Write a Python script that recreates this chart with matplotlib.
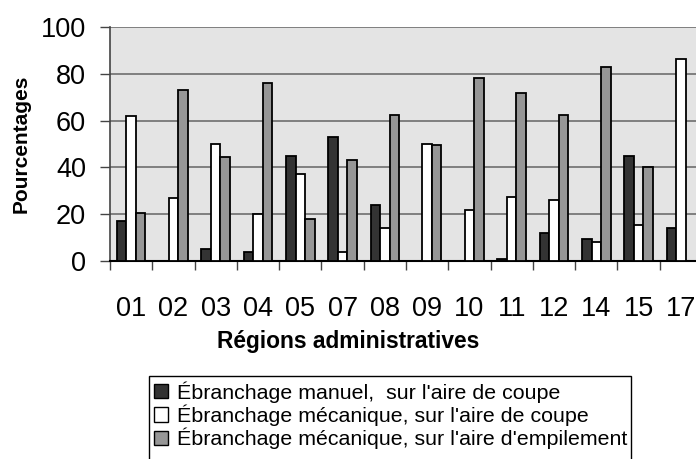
import matplotlib
matplotlib.use("Agg")
import matplotlib.pyplot as plt
from matplotlib.patches import Patch, Rectangle
import numpy as np

categories = ["01", "02", "03", "04", "05", "07", "08", "09", "10", "11", "12", "14", "15", "17"]
manuel_coupe = [17, 0, 5, 4, 45, 53, 24, 0, 0, 1, 12, 9.5, 45, 14]
mecanique_coupe = [62, 27, 50, 20, 37, 4, 14, 50, 22, 27.5, 26, 8, 15.5, 86.5]
mecanique_empilement = [20.5, 73, 44.5, 76, 18, 43, 62.5, 49.5, 78, 72, 62.5, 83, 40, 0]
series_labels = ["Ébranchage manuel,  sur l'aire de coupe",
                 "Ébranchage mécanique, sur l'aire de coupe",
                 "Ébranchage mécanique, sur l'aire d'empilement"]
yticks = [0, 20, 40, 60, 80, 100]

plt.rcParams['font.family'] = ['Liberation Sans', 'DejaVu Sans']

W, H = 696, 459
fig = plt.figure(figsize=(W / 100, H / 100), dpi=100)
ax = fig.add_axes([110 / W, (H - 261) / H, (702 - 110) / W, (261 - 27) / H])
ax.set_facecolor('#e4e4e4')

x = np.arange(len(categories))
w = 0.225
colors = ['#333333', '#ffffff', '#969696']
for k, (vals, col) in enumerate(zip([manuel_coupe, mecanique_coupe, mecanique_empilement], colors)):
    ax.bar(x + (k - 1) * w, vals, width=w, color=col, edgecolor='black', linewidth=1.3, zorder=3)

ax.set_xlim(-0.5, len(categories) - 0.5)
ax.set_ylim(0, 100)
ax.set_yticks(yticks)
ax.set_yticklabels([str(v) for v in yticks], fontsize=19.5)
ax.yaxis.grid(True, color='#6e6e6e', linewidth=1.2, zorder=1)
ax.set_axisbelow(True)

ax.set_xticks(x)
ax.set_xticklabels(categories, fontsize=19.5)
ax.set_xticks(np.arange(-0.5, len(categories)), minor=True)
ax.tick_params(axis='x', which='major', length=0, pad=25)
ax.tick_params(axis='x', which='minor', length=6.5, width=1, color='#444444', direction='out')
ax.tick_params(axis='y', length=7.2, width=1, color='#444444', pad=10, direction='out')

for s in ['top', 'right']:
    ax.spines[s].set_visible(False)
ax.spines['left'].set_color('#444444')
ax.spines['left'].set_linewidth(1.2)
ax.spines['bottom'].set_color('black')
ax.spines['bottom'].set_linewidth(1.5)

fig.text(21 / W, 1 - 144 / H, "Pourcentages", rotation=90, fontsize=15, fontweight='bold',
         ha='center', va='center')
fig.text(348 / W, 1 - 348 / H, "Régions administratives", fontsize=16.4, fontweight='bold',
         ha='center', va='baseline')

# legend frame (extends past the bottom edge as in the reference)
fig.patches.append(Rectangle((149 / W, -0.02), (631 - 149) / W, (H - 376) / H + 0.02,
                             transform=fig.transFigure, facecolor='white', edgecolor='black',
                             linewidth=1.0, zorder=0))

handles = [Patch(facecolor=c, edgecolor='black', linewidth=1.0) for c in colors]
leg = fig.legend(handles, series_labels, loc='upper left', bbox_to_anchor=(149 / W, 1 - 376 / H),
                 borderaxespad=0, fontsize=15.4, frameon=False,
                 handlelength=0.65, handleheight=0.65, handletextpad=0.4,
                 labelspacing=0.08, borderpad=0.25)

fig.savefig("out.png", dpi=100)
